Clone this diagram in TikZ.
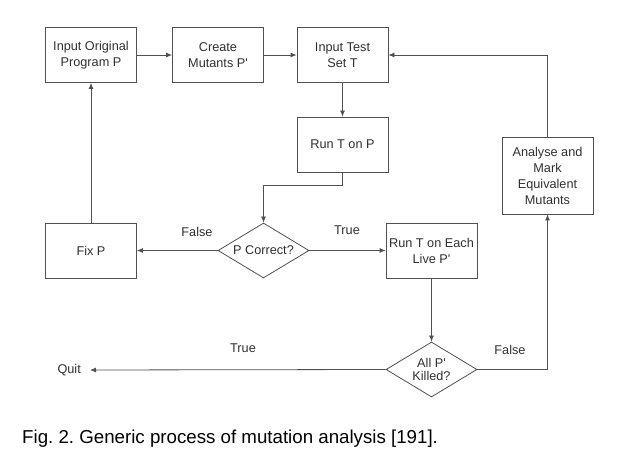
\documentclass[tikz,border=0pt]{standalone}
\usepackage{fontspec}
\setmainfont{Liberation Sans}
\usepackage{tikz}
\usetikzlibrary{shapes.geometric,arrows.meta}
\definecolor{linegray}{HTML}{505050}
\definecolor{textgray}{HTML}{303030}
\frenchspacing
\newcommand{\prm}{\textquotesingle}

\tikzset{
  box/.style = {draw=linegray, line width=0.8pt, minimum width=91pt, minimum height=55pt,
                align=center, inner sep=2pt, text=textgray,
                font=\fontsize{12.7}{16}\selectfont},
  decide/.style = {draw=linegray, line width=0.8pt, diamond, aspect=1.65, inner sep=0pt,
                   minimum width=91pt, minimum height=55pt, align=center, text=textgray,
                   font=\fontsize{12.7}{12.5}\selectfont},
  lbl/.style = {text=textgray, font=\fontsize{12.7}{15}\selectfont, inner sep=0pt},
  arr/.style = {draw=linegray, line width=0.8pt, -{Latex[length=6pt,width=5pt]}}
}

\begin{document}
\begin{tikzpicture}[x=1pt, y=-1pt]
   \useasboundingbox (0,0) rectangle (627,473);
   % top row
   \node[box] (orig) at (91,55) {Input Original\\Program P};
   \node[box] (create) at (218,55) {Create\\Mutants P\prm};
   \node[box] (testset) at (342.5,55) {Input Test\\Set T};
   \node[box] (runp) at (342.5,144.5) {Run T on P};
   % middle row
   \node[box] (fixp) at (91,250.5) {Fix P};
   \node[decide] (correct) at (263.5,250.5) {P Correct?};
   \node[box] (runeach) at (431.5,250.5) {Run T on Each\\Live P\prm};
   \node[box, minimum height=77pt] (analyse) at (547.5,175.5) {Analyse and\\Mark\\Equivalent\\Mutants};
   % bottom row
   \node[decide] (killed) at (431.5,369.5) {All P\prm\\Killed?};
   \node[lbl, inner sep=0pt, anchor=east] (quit) at (81,370) {Quit};
   % labels
   \node[lbl] (falsea) at (197,232) {False};
   \node[lbl] (truea) at (347,230) {True};
   \node[lbl] (trueb) at (243,348) {True};
   \node[lbl] (falseb) at (510,350) {False};
   % connectors
   \draw[arr] (orig) -- (create);
   \draw[arr] (create) -- (testset);
   \draw[arr] (testset) -- (runp);
   \draw[arr] (runp.south) -- ++(0,13) -| (correct.north);
   \draw[arr] (correct.west) -- (fixp.east);
   \draw[arr] (fixp.north) -- (orig.south);
   \draw[arr] (correct.east) -- (runeach.west);
   \draw[arr] (runeach.south) -- (killed.north);
   \draw[arr] (killed.west) -- ([xshift=9pt]quit.east);
   \draw[arr] (killed.east) -| (analyse.south);
   \draw[arr] (analyse.north) |- (testset.east);
   % caption
   \node[anchor=west, inner sep=0pt, font=\fontsize{18.7}{22}\selectfont] (caption) at (22,439)
      {Fig. 2. Generic process of mutation analysis [191].};
\end{tikzpicture}
\end{document}
